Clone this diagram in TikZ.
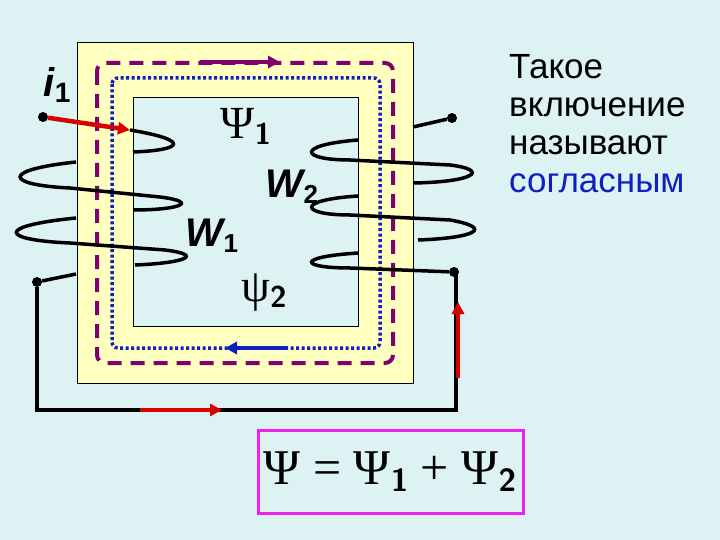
\documentclass[tikz,border=0pt]{standalone}
\usepackage{fontspec}
\setmainfont{Liberation Sans}
\newfontfamily\serf{Liberation Serif}
\usetikzlibrary{arrows.meta}
\definecolor{bg}{HTML}{DDF3F3}
\definecolor{core}{HTML}{FFFFC0}
\definecolor{fluxp}{HTML}{800070}
\definecolor{fluxb}{HTML}{1020C0}
\definecolor{mag}{HTML}{F020F0}
\begin{document}
\begin{tikzpicture}[x=1pt,y=-1pt,
  wire/.style={line width=3.5pt,black},
  redar/.style={line width=4.5pt,red!85!black,-{Triangle[length=12pt,width=12pt]}},
  dotn/.style={circle,fill=black,inner sep=0pt,minimum size=10pt},
  lab/.style={font=\bfseries\itshape\fontsize{40}{42}\selectfont}]
\fill[bg] (0,0) rectangle (720,540);
\useasboundingbox (0,0) rectangle (720,540);
\filldraw[fill=core,draw=black,line width=1pt] (77,43) rectangle (413,383);
\filldraw[fill=bg,draw=black,line width=1pt] (133,98) rectangle (358,326);
\draw[fluxp,line width=4pt,dash pattern=on 14pt off 9pt,rounded corners=8pt] (97,63) rectangle (393,363);
\draw[fluxb,line width=3.5pt,dash pattern=on 3pt off 2.5pt,rounded corners=6pt] (112,78) rectangle (380,348);
\draw[fluxp,line width=4pt,-{Triangle[length=12pt,width=12pt]}] (200,62) -- (280,62);
\draw[fluxb,line width=4pt,-{Triangle[length=12pt,width=12pt]}] (288,348) -- (225,348);
% left coil
\node[dotn] (a) at (43,117) {};
\coordinate (a1) at (130,130);
\draw[redar] (a) -- (a1);
\draw[wire] (a1) .. controls (190,140) and (185,150) .. (133,152);
\draw[wire] (76,162) .. controls (0,170) and (5,185) .. (70,188) -- (160,197) .. controls (200,202) and (180,210) .. (133,210);
\draw[wire] (76,218) .. controls (-5,226) and (0,240) .. (70,243) -- (165,250) .. controls (205,255) and (185,263) .. (135,265);
\node[dotn] (b) at (37,282) {};
\draw[wire] (76,274) -- (b);
% right coil
\node[dotn] (c) at (452,118) {};
\draw[wire] (c) -- (413,127);
\draw[wire] (358,140) .. controls (295,145) and (300,160) .. (350,160) -- (450,165) .. controls (490,170) and (475,182) .. (413,183);
\draw[wire] (358,196) .. controls (295,200) and (300,215) .. (350,215) -- (450,220) .. controls (495,228) and (475,238) .. (418,240);
\node[dotn] (d) at (454,272) {};
\draw[wire] (358,253) .. controls (295,257) and (300,268) .. (350,268) -- (d);
% external circuit
\coordinate (e) at (37,410);
\coordinate (f) at (456,410);
\draw[line width=3.5pt] (b) -- (e) -- (f) -- (456,272);
\draw[redar] (140,410) -- (222,410);
\draw[redar] (458,378) -- (458,302);
% labels
\node[lab] (i1) at (57,85) {i\raisebox{-6pt}{\upshape\bfseries\fontsize{28}{30}\selectfont 1}};
\node[font=\serf\fontsize{46}{48}\selectfont] (p1) at (246,126) {Ψ\raisebox{-6pt}{\sffamily\bfseries\fontsize{30}{32}\selectfont 1}};
\node[lab] (w2) at (292,187) {W\raisebox{-6pt}{\upshape\fontsize{26}{28}\selectfont 2}};
\node[lab] (w1) at (212,236) {W\raisebox{-6pt}{\upshape\fontsize{26}{28}\selectfont 1}};
\node[font=\serf\fontsize{46}{48}\selectfont] (p2) at (264,293) {ψ\raisebox{-6pt}{\sffamily\bfseries\fontsize{30}{32}\selectfont 2}};
\node[align=left,anchor=north west,inner sep=0pt,font=\fontsize{35}{38}\selectfont] (t) at (509,54) {Такое\\включение\\называют\\\textcolor{fluxb}{согласным}};
\draw[mag,line width=3pt] (258,430) rectangle (523,513);
\node[font=\serf\fontsize{50}{52}\selectfont] (f1) at (390,472) {Ψ = Ψ\raisebox{-7pt}{\sffamily\bfseries\fontsize{32}{34}\selectfont 1} + Ψ\raisebox{-7pt}{\sffamily\bfseries\fontsize{32}{34}\selectfont 2}};
\end{tikzpicture}
\end{document}
